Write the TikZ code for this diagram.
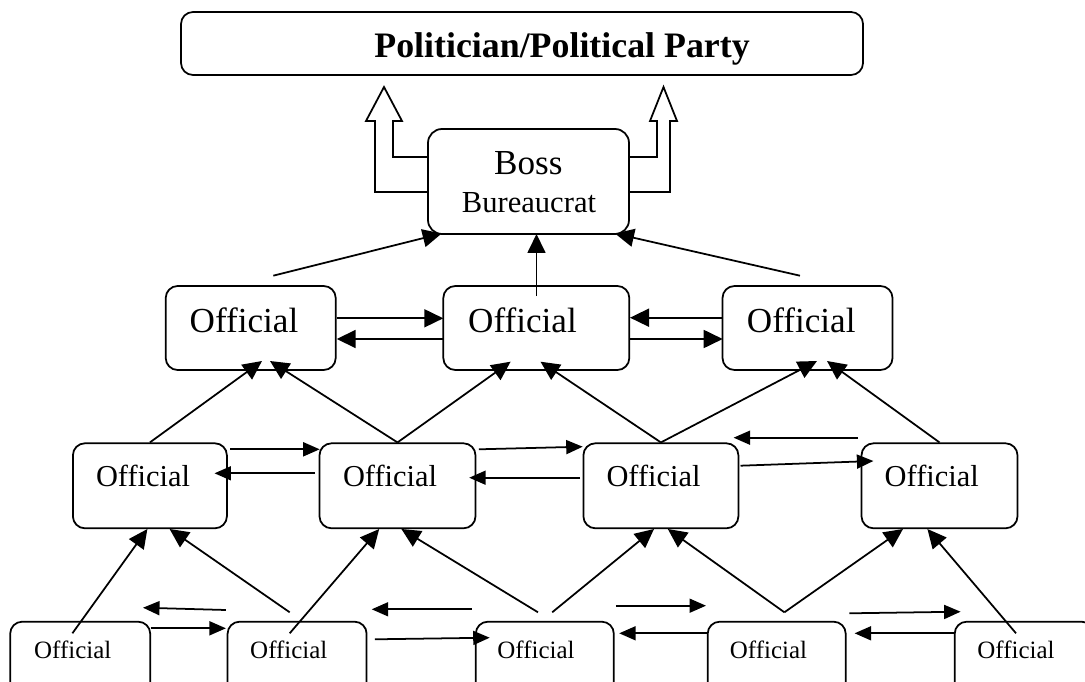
\documentclass[tikz,border=0pt]{standalone}
\usepackage{fontspec}
\setmainfont{Liberation Serif}
\usetikzlibrary{arrows.meta}

\begin{document}
\begin{tikzpicture}[x=0.02cm,y=-0.02cm,line width=1pt]
		\tikzstyle{box}=[draw,rounded corners=0.24cm,inner sep=0pt]
		\tikzstyle{big tip}=[-{Triangle[length=0.38cm,width=0.36cm]}]
		\tikzstyle{small tip}=[-{Triangle[length=0.33cm,width=0.28cm]}]
		\tikzstyle{lbl}=[anchor=base,inner sep=0pt]
		\useasboundingbox (0,0) rectangle (1085,682);
		\clip (0,0) rectangle (1085,682);
		
		% Politician box and boss
		\node[box,minimum width=682*0.02cm,minimum height=63*0.02cm] (P) at (522,43.5) {};
		\node[lbl,font=\fontsize{20.4}{24}\selectfont\bfseries] (P-t) at (562,58) {Politician/Political Party};
		\node[box,rounded corners=0.28cm,minimum width=201*0.02cm,minimum height=105*0.02cm] (Boss) at (528.5,181.5) {};
		\node[lbl,font=\fontsize{20}{24}\selectfont] (Boss-t) at (528.3,175) {Boss};
		\node[lbl,font=\fontsize{17.4}{20}\selectfont] (Boss-s) at (529,213) {Bureaucrat};
		
		% Hollow arrows up to the party
		\draw[line join=miter] (428,157) -- (393,157) -- (393,121) -- (402,121) -- (384,87)
		-- (366,121) -- (375,121) -- (375,192) -- (428,192);
		\draw[line join=miter] (629,157) -- (657,157) -- (657,121) -- (650,121) -- (663.5,87)
		-- (677,121) -- (670,121) -- (670,192) -- (629,192);
		
		% Draw the first row of officials
		\foreach \name/\x/\w/\tx in {A/250.7/170/244, B/536.3/186/522.5, C/807.5/170/801.2}
		{
			\node[box,minimum width=\w*0.02cm,minimum height=84*0.02cm] (\name) at (\x,328) {};
			\node[lbl,font=\fontsize{20}{24}\selectfont] (\name-t) at (\tx,332) {Official};
		}
		
		% Draw the second row of officials
		\foreach \name/\x/\w/\tx in {D/149.9/154/143, E/397.5/156/390, F/660.9/155/653.5, G/939.5/156/931.7}
		{
			\node[box,minimum width=\w*0.02cm,minimum height=85*0.02cm] (\name) at (\x,485.8) {};
			\node[lbl,font=\fontsize{17.3}{20}\selectfont] (\name-t) at (\tx,486.7) {Official};
		}
		
		% Draw the third row of officials
		\foreach \name/\x/\w/\tx in {H/80.2/140/72.7, I/297.1/139/288.8, J/544.8/138/536, K/776.7/138/768.5, L/1024.2/139/1016}
		{
			\node[box,minimum width=\w*0.02cm,minimum height=90*0.02cm] (\name) at (\x,666.7) {};
			\node[lbl,font=\fontsize{14.2}{17}\selectfont] (\name-t) at (\tx,658.3) {Official};
		}
		
		% Ends of the connectors
		\foreach \n/\x/\y in {a0/273.3/275.7, b0/536.5/296, c0/800/275.7,
			s1/441.7/233.5, s2/536.5/234, s3/615/233.5,
			a1/262/361, a2/270/361, b1/510.6/361.7, b2/540.5/361.7, c1/817/361, c2/827/361,
			d1/147.4/529, d2/169.6/529, e1/379.2/529, e2/401.4/529,
			f1/654/529, f2/667.8/529, g1/903/529, g2/927.4/529,
			h0/72.4/633.3, i0/289.7/612.3, i1/289.7/633.3, j0/538/612.3,
			j1/552.2/612.3, k0/784.4/612.3, l0/1016/633.3,
			ab1/336.7/318.3, ab2/443.3/318.3, ba1/443.3/339, ba2/336.7/339,
			cb1/722.7/317.7, cb2/630/317.7, bc1/630/339, bc2/722.7/339,
			de1/230.4/449.3, de2/319.7/449.3, ed1/315/473.3, ed2/214.5/473.3,
			ef1/478.9/449.3, ef2/582.7/446.7, fe1/580/477.7, fe2/469.2/477.7,
			gf1/858/437.7, gf2/733.6/437.7, fg1/740.5/465.7, fg2/873.4/461,
			ih1/225.9/610, ih2/143/607.7, hi1/150.7/628.3, hi2/225.9/628.3,
			ji1/471.7/609.3, ji2/371.7/609.3, ij1/374.8/639.3, ij2/489.7/637.7,
			jk1/615.8/605.7, jk2/706/605.7, kj1/707.5/633.3, kj2/619.2/633.3,
			kl1/849.3/613.3, kl2/960.6/611.7, lk1/954.7/633.3, lk2/854.6/633.3}
		\coordinate (\n) at (\x,\y);
		
		% Connect to the boss
		\foreach \source/\dest in {a0/s1, b0/s2, c0/s3}
		\draw[big tip] (\source) -- (\dest);
		
		% Connect second row to first row
		\foreach \source/\dest in {D.north/a1, E.north/a2, E.north/b1, F.north/b2, F.north/c1, G.north/c2}
		\draw[big tip] (\source) -- (\dest);
		
		% Connect third row to second row
		\foreach \source/\dest in {h0/d1, i0/d2, i1/e1, j0/e2, j1/f1, k0/f2, k0/g1, l0/g2}
		\draw[big tip] (\source) -- (\dest);
		
		% Sideways links
		\foreach \source/\dest in {ab1/ab2, ba1/ba2, cb1/cb2, bc1/bc2}
		\draw[big tip] (\source) -- (\dest);
		\foreach \source/\dest in {de1/de2, ed1/ed2, ef1/ef2, fe1/fe2, gf1/gf2, fg1/fg2,
			ih1/ih2, hi1/hi2, ji1/ji2, ij1/ij2, jk1/jk2, kj1/kj2, kl1/kl2, lk1/lk2}
		\draw[small tip] (\source) -- (\dest);
	
	\end{tikzpicture}
\end{document}
